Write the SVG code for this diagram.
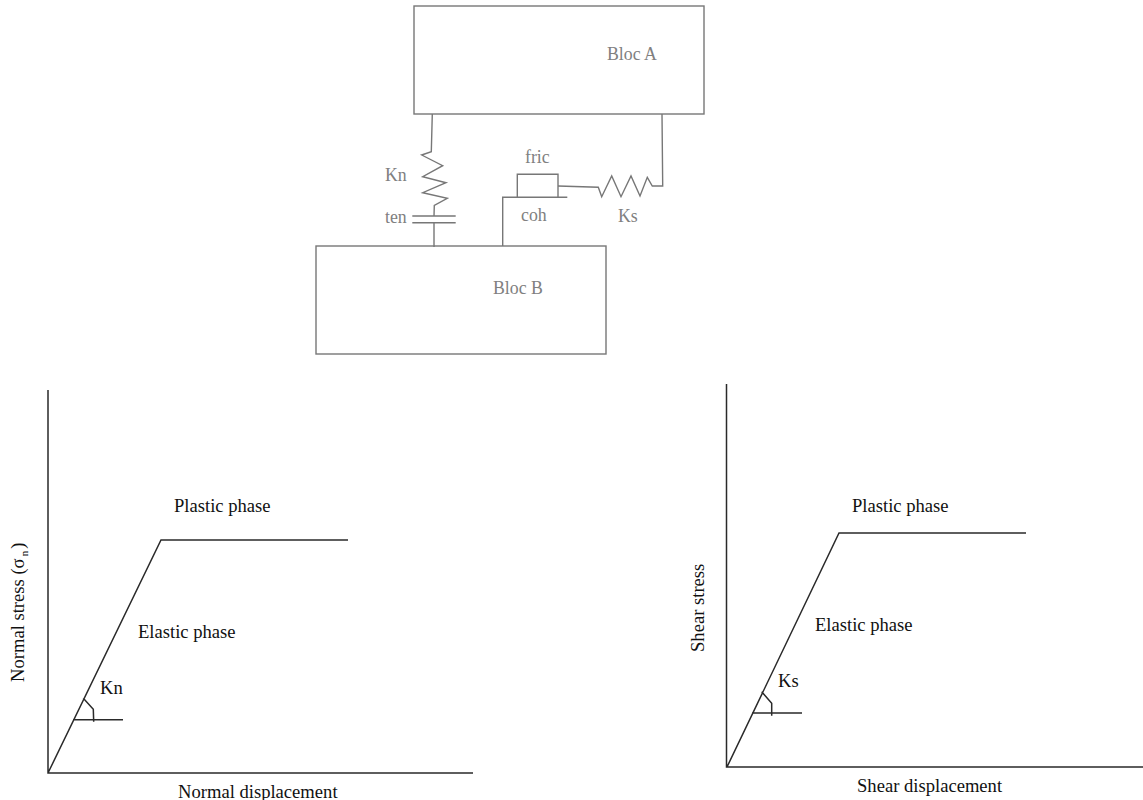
<svg xmlns="http://www.w3.org/2000/svg" width="1143" height="800" viewBox="0 0 1143 800">
<style>
.g{fill:none;stroke:#777;stroke-width:1.4}
.k{fill:none;stroke:#2a2a2a;stroke-width:1.5}
.t{font-family:"Liberation Serif","Times New Roman",serif;font-size:18.6px;fill:#111}
.s{font-family:"Liberation Serif","Times New Roman",serif;font-size:17.8px;fill:#808080}
</style>
<rect width="1143" height="800" fill="#fff"/>
<g id="bloc-a"><rect class="g" x="414" y="6" width="290" height="108"/><text class="s" x="607" y="60">Bloc A</text></g>
<g id="bloc-b"><rect class="g" x="316" y="246" width="290" height="108"/><text class="s" x="493" y="294">Bloc B</text></g>
<g id="connectors">
<path class="g" d="M432.300 114L431.300 151.700L421.700 155L442.700 165.700L422.700 176.700L446 182.700L422.700 192.700L447.300 198.300L434.300 205.300L434 216"/>
<path class="g" d="M412.300 216H455.700M412.300 222.700H455.700M434 222.700V247"/>
<path class="g" d="M517.300 197.300V174.300H558V197.300M502.700 246V197.300H567.300"/>
<path class="g" d="M558 186L598.300 187.300L601.700 196.700L611.700 176L621 196.700L631 176L640 196L647.300 177.300L652.300 186H662.700L662 114"/>
</g>
<g id="spring-labels">
<text class="s" x="385" y="181">Kn</text>
<text class="s" x="385" y="223">ten</text>
<text class="s" x="525" y="163">fric</text>
<text class="s" x="521" y="221">coh</text>
<text class="s" x="618" y="222">Ks</text>
</g>
<g id="normal-chart">
<path class="k" d="M48 390V773H473M48 773L161 540H348M73 719.700H123M83.300 698.300L93.300 709.300L93.700 721.700"/>
<text class="t" x="174" y="512">Plastic phase</text>
<text class="t" x="138" y="638">Elastic phase</text>
<text class="t" x="100" y="694">Kn</text>
<text class="t" x="178" y="798">Normal displacement</text>
<text class="t" transform="translate(24 682) rotate(-90)">Normal stress (σ<tspan font-size="11" dy="4" dx="2">n</tspan><tspan dy="-4" dx="2">)</tspan></text>
</g>
<g id="shear-chart">
<path class="k" d="M726.500 384V767H1143M727 767L839 533H1026M752 713H802M761.700 691.700L771.700 703.300L771.700 715.700"/>
<text class="t" x="852" y="512">Plastic phase</text>
<text class="t" x="815" y="631">Elastic phase</text>
<text class="t" x="778" y="687">Ks</text>
<text class="t" x="857" y="792">Shear displacement</text>
<text class="t" transform="translate(704 652) rotate(-90)">Shear stress</text>
</g>
</svg>
